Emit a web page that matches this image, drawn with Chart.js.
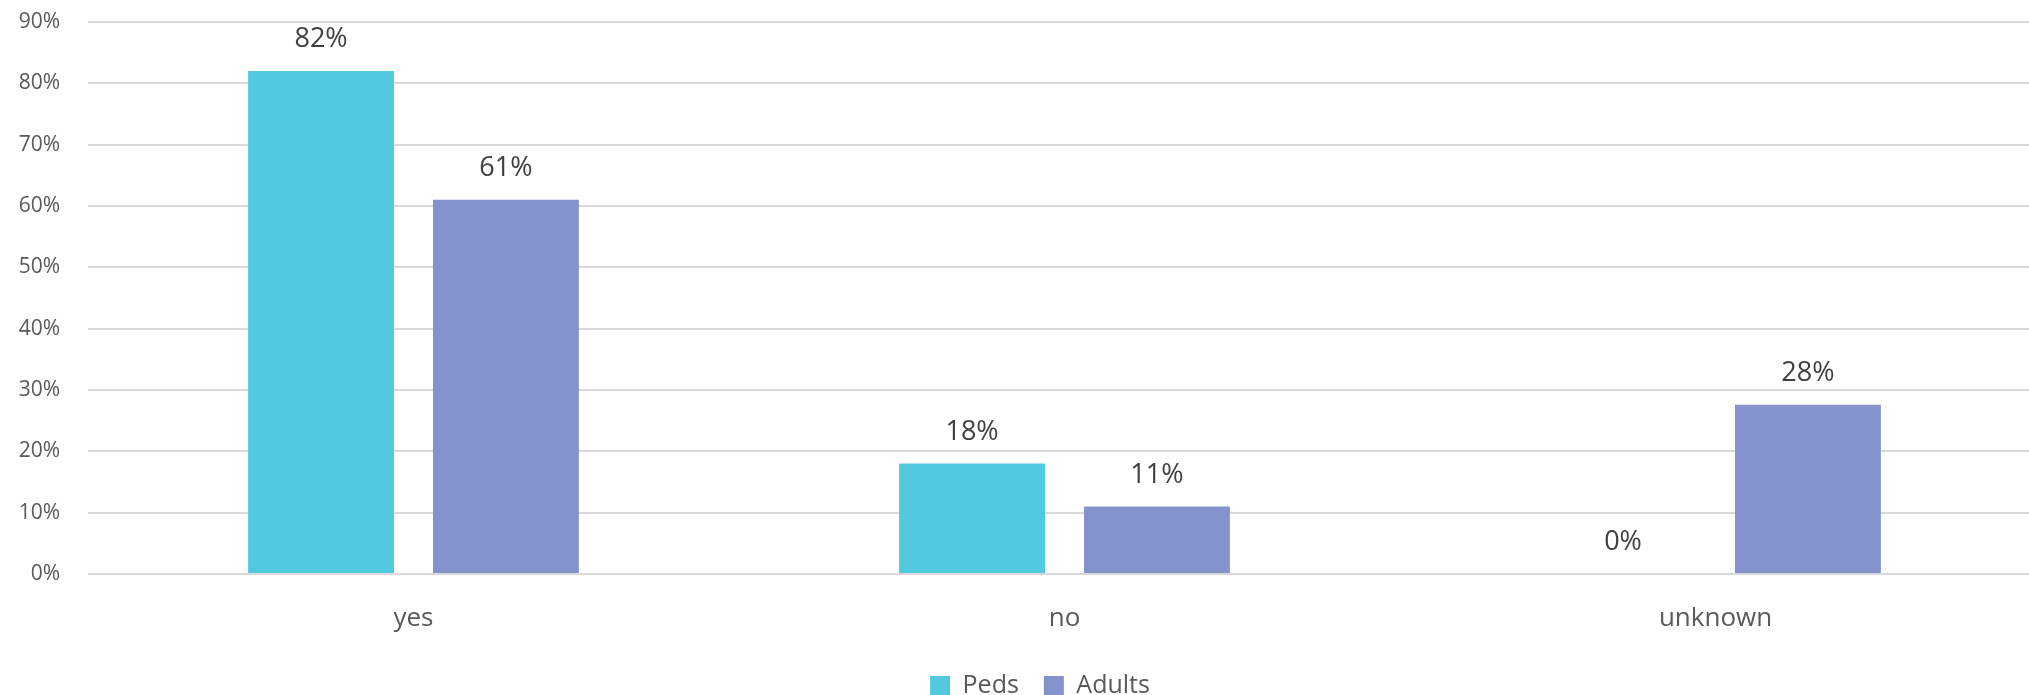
<!DOCTYPE html>
<html><head><meta charset="utf-8">
<script src="https://cdn.jsdelivr.net/npm/chart.js@4"></script>
<style>html,body{margin:0;padding:0;background:#fff;overflow:hidden}#wrap{width:2029px;height:695px;overflow:hidden}</style>
</head><body><div id="wrap"><canvas id="c" width="2041" height="695"></canvas></div>
<script>
const categories = ["yes", "no", "unknown"];
const peds = [82, 18, 0];
const adults = [61, 11, 27.6];
const yTicks = [0, 10, 20, 30, 40, 50, 60, 70, 80, 90];

const FONT = "'Open Sans', 'Noto Sans', sans-serif";

const valueLabels = {
  id: 'valueLabels',
  afterDatasetsDraw(chart) {
    const ctx = chart.ctx;
    ctx.save();
    ctx.font = "27px " + FONT;
    ctx.fillStyle = '#404040';
    ctx.textAlign = 'center';
    ctx.textBaseline = 'alphabetic';
    chart.data.datasets.forEach((ds, i) => {
      chart.getDatasetMeta(i).data.forEach((bar, j) => {
        ctx.fillText(Math.round(ds.data[j]) + '%', bar.x, bar.y - 24);
      });
    });
    ctx.restore();
  }
};

const legendFit = {
  id: 'legendFit',
  beforeLayout(chart) {
    const lg = chart.legend;
    if (lg && !lg._patched) {
      const orig = lg.fit;
      lg.fit = function () { orig.call(this); this.height = 47; };
      lg._patched = true;
    }
  },
  afterLayout(chart) {
    const lg = chart.legend;
    if (lg) { lg.left += 39; }
  }
};

new Chart(document.getElementById('c'), {
  type: 'bar',
  data: {
    labels: categories,
    datasets: [
      { label: 'Peds', data: peds, backgroundColor: '#53C9E0', categoryPercentage: 0.568, barPercentage: 0.789 },
      { label: 'Adults', data: adults, backgroundColor: '#8493CE', categoryPercentage: 0.568, barPercentage: 0.789 }
    ]
  },
  options: {
    responsive: false,
    animation: false,
    layout: { padding: { top: 22, right: 0, left: 0, bottom: 0 } },
    plugins: {
      legend: {
        position: 'bottom',
        labels: { font: { family: FONT, size: 25 }, color: '#595959', boxWidth: 20, boxHeight: 19, padding: 25 }
      },
      tooltip: { enabled: false }
    },
    scales: {
      x: {
        afterFit(scale) { scale.height = 74; },
        grid: { display: false, drawTicks: false },
        border: { display: false },
        ticks: { font: { family: FONT, size: 26 }, color: '#595959', padding: 29 }
      },
      y: {
        min: 0, max: 90,
        afterBuildTicks(scale) { scale.ticks = yTicks.map(v => ({ value: v })); },
        afterFit(scale) { scale.width = 88; scale.paddingTop = 0; scale.paddingBottom = 0; },
        grid: { color: '#D9D9D9', lineWidth: 2, drawTicks: false },
        border: { display: false },
        ticks: { font: { family: FONT, size: 21 }, color: '#595959', padding: 28, callback: v => v + '%' }
      }
    }
  },
  plugins: [valueLabels, legendFit]
});
</script></body></html>
